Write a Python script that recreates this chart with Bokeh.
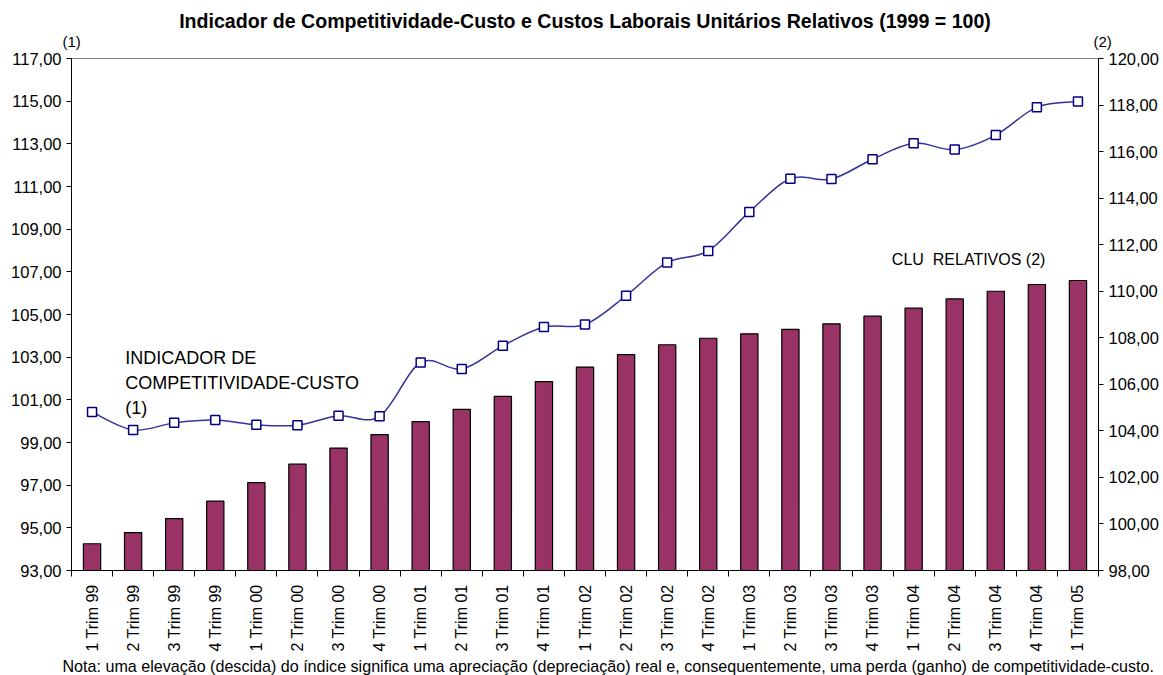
import math
from bokeh.plotting import figure
from bokeh.models import (Range1d, LinearAxis, FixedTicker, CustomJSTickFormatter,
                          Label, ColumnDataSource, Title)
from bokeh.embed import file_html
from bokeh.resources import INLINE

categories = ["1 Trim 99", "2 Trim 99", "3 Trim 99", "4 Trim 99",
              "1 Trim 00", "2 Trim 00", "3 Trim 00", "4 Trim 00",
              "1 Trim 01", "2 Trim 01", "3 Trim 01", "4 Trim 01",
              "1 Trim 02", "2 Trim 02", "3 Trim 02", "4 Trim 02",
              "1 Trim 03", "2 Trim 03", "3 Trim 03", "4 Trim 03",
              "1 Trim 04", "2 Trim 04", "3 Trim 04", "4 Trim 04",
              "1 Trim 05"]

# Indicador de Competitividade-Custo (left axis, (1))
indicador = [100.43, 99.59, 99.92, 100.05, 99.83, 99.81, 100.25, 100.23,
             102.75, 102.44, 103.53, 104.41, 104.53, 105.88, 107.44, 107.98,
             109.81, 111.36, 111.35, 112.28, 113.03, 112.73, 113.41, 114.72,
             114.98]

# CLU Relativos (right axis, (2))
clu = [99.15, 99.63, 100.23, 100.98, 101.78, 102.57, 103.26, 103.84,
       104.40, 104.92, 105.48, 106.12, 106.74, 107.28, 107.70, 107.98,
       108.17, 108.36, 108.60, 108.93, 109.27, 109.67, 110.00, 110.29,
       110.46]

left_ticks = [93, 95, 97, 99, 101, 103, 105, 107, 109, 111, 113, 115, 117]
right_ticks = [98, 100, 102, 104, 106, 108, 110, 112, 114, 116, 118, 120]

title_text = "Indicador de Competitividade-Custo e Custos Laborais Unitários Relativos (1999 = 100)"
note_text = ("Nota: uma elevação (descida) do índice significa uma apreciação (depreciação) "
             "real e, consequentemente, uma perda (ganho) de competitividade-custo.")
left_axis_title = "(1)"
right_axis_title = "(2)"

FONT = "Liberation Sans"
n = len(categories)
xs = [i + 0.5 for i in range(n)]

p = figure(width=1163, height=675, output_backend="svg", toolbar_location=None,
           title=None,
           x_range=Range1d(0, n), y_range=Range1d(left_ticks[0], left_ticks[-1]),
           min_border_left=71, min_border_right=65, min_border_top=58,
           min_border_bottom=105, x_axis_location="below")
p.extra_y_ranges = {"right": Range1d(right_ticks[0], right_ticks[-1])}

p.xgrid.visible = False
p.ygrid.visible = False
p.outline_line_color = "#808080"
p.background_fill_color = "white"
p.border_fill_color = "white"

# bars
src_b = ColumnDataSource(dict(x=xs, top=clu))
p.vbar(x="x", top="top", bottom=right_ticks[0], width=0.42, source=src_b,
       y_range_name="right", fill_color="#993366", line_color="black", line_width=1.2)

# smoothed line (Bezier segments through the data points)
x0, y0, x1, y1, cx0, cy0, cx1, cy1 = [], [], [], [], [], [], [], []
for i in range(n - 1):
    a = i - 1 if i > 0 else i
    d = i + 2 if i + 2 < n else i + 1
    x0.append(xs[i]); y0.append(indicador[i])
    x1.append(xs[i + 1]); y1.append(indicador[i + 1])
    cx0.append(xs[i] + (xs[i + 1] - xs[a]) / 6)
    cy0.append(indicador[i] + (indicador[i + 1] - indicador[a]) / 6)
    cx1.append(xs[i + 1] - (xs[d] - xs[i]) / 6)
    cy1.append(indicador[i + 1] - (indicador[d] - indicador[i]) / 6)
p.bezier(x0=x0, y0=y0, x1=x1, y1=y1, cx0=cx0, cy0=cy0, cx1=cx1, cy1=cy1,
         line_color="#333399", line_width=1.5)
p.scatter(xs, indicador, marker="square", size=9, fill_color="white",
          line_color="#000080", line_width=1.5)

# axes
xa = p.xaxis[0]
xa.ticker = FixedTicker(ticks=xs, minor_ticks=list(range(n + 1)))
xa.formatter = CustomJSTickFormatter(args=dict(labels=categories),
                                     code="return labels[Math.floor(tick)];")
xa.major_label_orientation = math.pi / 2
xa.major_tick_line_color = None
xa.minor_tick_in = 0
xa.minor_tick_out = 6
xa.minor_tick_line_color = "black"
xa.axis_line_color = "black"
xa.major_label_text_font = FONT
xa.major_label_text_font_size = "16px"
xa.major_label_text_color = "black"
xa.major_label_standoff = 8

ya = p.yaxis[0]
ya.ticker = FixedTicker(ticks=left_ticks)
ya.formatter = CustomJSTickFormatter(code="return tick.toFixed(2).replace('.', ',');")
ya.major_tick_in = 0
ya.major_tick_out = 5
ya.minor_tick_line_color = None
ya.axis_line_color = "black"
ya.major_label_text_font = FONT
ya.major_label_text_font_size = "16.5px"
ya.major_label_text_color = "black"
ya.major_label_standoff = 5

ra = LinearAxis(y_range_name="right", ticker=FixedTicker(ticks=right_ticks),
                formatter=CustomJSTickFormatter(code="return tick.toFixed(2).replace('.', ',');"))
ra.major_tick_in = 0
ra.major_tick_out = 5
ra.minor_tick_line_color = None
ra.axis_line_color = "black"
ra.major_label_text_font = FONT
ra.major_label_text_font_size = "16.5px"
ra.major_label_text_color = "black"
ra.major_label_standoff = 5
p.add_layout(ra, "right")

# axis unit markers (1) and (2) above the axes, then the main title
p.add_layout(Title(text=left_axis_title + "\u00a0" * 243 + right_axis_title,
                   align="left", offset=-9, standoff=18, vertical_align="bottom",
                   text_font=FONT, text_font_size="15px", text_font_style="normal",
                   text_color="black"), "above")
p.add_layout(Title(text=title_text, align="center", standoff=-21, vertical_align="bottom",
                   text_font=FONT, text_font_size="19.6px", text_font_style="bold",
                   text_color="black"), "above")

# in-plot labels
p.add_layout(Label(x=1.31, y=103.45, text="INDICADOR DE\nCOMPETITIVIDADE-CUSTO\n(1)",
                   text_align="left", text_baseline="top", text_font=FONT,
                   text_font_size="18px", text_line_height=1.25, text_color="black"))
p.add_layout(Label(x=19.97, y=111.38, y_range_name="right", text="CLU\u00a0 RELATIVOS (2)",
                   text_align="left", text_baseline="middle", text_font=FONT,
                   text_font_size="16px", text_color="black"))

# footnote
p.add_layout(Title(text=note_text, align="left", offset=-9, standoff=0,
                   text_font=FONT, text_font_size="16.1px", text_font_style="normal",
                   text_color="black"), "below")

open("out.html", "w").write(file_html(p, INLINE))
